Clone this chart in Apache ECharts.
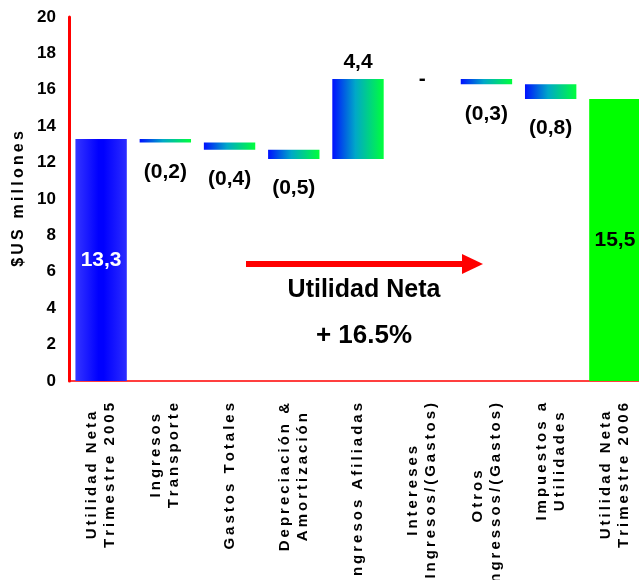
<!DOCTYPE html>
<html>
<head>
<meta charset="utf-8">
<script src="https://cdn.jsdelivr.net/npm/echarts@6/dist/echarts.min.js"></script>
<style>
html,body{margin:0;padding:0;background:#fff;}
#main{width:639px;height:580px;}
</style>
</head>
<body>
<div id="main"></div>
<script>
// ---- data ----
var categories = [
  'Utilidad Neta\nTrimestre 2005',
  'Ingresos\nTransporte',
  'Gastos Totales',
  'Depreciación &\nAmortización',
  'Ingresos Afiliadas',
  'Intereses\nIngresos/(Gastos)',
  'Otros\nIngressos/(Gastos)',
  'Impuestos a\nUtilidades',
  'Utilidad Neta\nTrimestre 2006'
];
var startValue = 13.3;
var changes = [-0.2, -0.4, -0.5, 4.4, 0, -0.3, -0.8];
var endValue = 15.5;
var yMin = 0, yMax = 20, yInterval = 2;
var yAxisTitle = '$US millones';
var noteTitle = 'Utilidad Neta';
var noteValue = '+ 16.5%';

// ---- build waterfall ----
var FONT = '"Liberation Sans", Arial, sans-serif';
function fmt(v) { return Math.abs(v).toFixed(1).replace('.', ','); }
function spaced(s) { return s.split('').join('\u2009'); }

var gradDelta = new echarts.graphic.LinearGradient(0, 0, 1, 0, [
  {offset: 0, color: '#0010ff'},
  {offset: 0.45, color: '#00a8c8'},
  {offset: 1, color: '#00ff3c'}
]);
var gradStart = new echarts.graphic.LinearGradient(0, 0, 1, 0, [
  {offset: 0, color: '#3535ff'},
  {offset: 0.45, color: '#0000ff'},
  {offset: 0.55, color: '#0000ff'},
  {offset: 1, color: '#2c2cff'}
]);

var baseData = [0];
var barData = [{
  value: startValue,
  itemStyle: {color: gradStart},
  label: {show: true, position: 'inside', color: '#fff', formatter: fmt(startValue)}
}];
var running = startValue;
changes.forEach(function (c) {
  var next = running + c;
  baseData.push(Math.min(running, next));
  var lbl;
  if (c < 0) lbl = {show: true, position: 'bottom', distance: 19, formatter: '(' + fmt(c) + ')'};
  else if (c > 0) lbl = {show: true, position: 'top', distance: 6, formatter: fmt(c)};
  else lbl = {show: true, position: 'inside', formatter: '-'};
  barData.push({value: Math.abs(c), itemStyle: {color: gradDelta}, label: lbl});
  running = next;
});
baseData.push(0);
barData.push({
  value: endValue,
  itemStyle: {color: '#00ff00'},
  label: {show: true, position: 'inside', color: '#000', formatter: fmt(endValue)}
});

var chart = echarts.init(document.getElementById('main'));
chart.setOption({
  animation: false,
  backgroundColor: '#fff',
  grid: {left: 69, right: -8, top: 17, bottom: 199, containLabel: false, outerBoundsMode: 'none'},
  xAxis: {
    type: 'category',
    data: categories,
    axisLine: {show: true, lineStyle: {color: '#ff0000', width: 1.5}},
    axisTick: {show: false},
    axisLabel: {
      interval: 0,
      rotate: 90,
      margin: 22,
      formatter: function (v) {
        return v.split('\n').map(function (l) { return '{c|' + spaced(l) + '}'; }).join('\n');
      },
      rich: {
        c: {align: 'center', fontSize: 15, fontWeight: 'bold', fontFamily: FONT, color: '#000', lineHeight: 18}
      }
    }
  },
  yAxis: {
    type: 'value',
    min: yMin, max: yMax, interval: yInterval,
    name: spaced(yAxisTitle),
    nameLocation: 'middle',
    nameGap: 39,
    nameTextStyle: {fontSize: 16, fontWeight: 'bold', fontFamily: FONT, color: '#000'},
    axisLine: {show: true, lineStyle: {color: '#ff0000', width: 3}},
    axisTick: {show: false},
    splitLine: {show: false},
    axisLabel: {fontSize: 17, fontWeight: 'bold', fontFamily: FONT, color: '#000', margin: 13}
  },
  series: [
    {
      name: 'base', type: 'bar', stack: 'w', data: baseData,
      itemStyle: {color: 'transparent'}, silent: true, barCategoryGap: '20%'
    },
    {
      name: 'valor', type: 'bar', stack: 'w', data: barData, barCategoryGap: '20%',
      label: {fontSize: 21, fontWeight: 'bold', fontFamily: FONT, color: '#000'}
    }
  ],
  graphic: [
    {type: 'line', shape: {x1: 246, y1: 264, x2: 466, y2: 264}, style: {stroke: '#ff0000', lineWidth: 6}, z: 100},
    {type: 'polygon', shape: {points: [[462, 254], [483, 264], [462, 274]]}, style: {fill: '#ff0000'}, z: 100},
    {type: 'text', x: 364, y: 290, style: {text: noteTitle, fontSize: 25, fontWeight: 'bold', fontFamily: FONT, fill: '#000', align: 'center', verticalAlign: 'middle'}, z: 100},
    {type: 'text', x: 364, y: 336, style: {text: noteValue, fontSize: 26, fontWeight: 'bold', fontFamily: FONT, fill: '#000', align: 'center', verticalAlign: 'middle'}, z: 100}
  ]
});
</script>
</body>
</html>
